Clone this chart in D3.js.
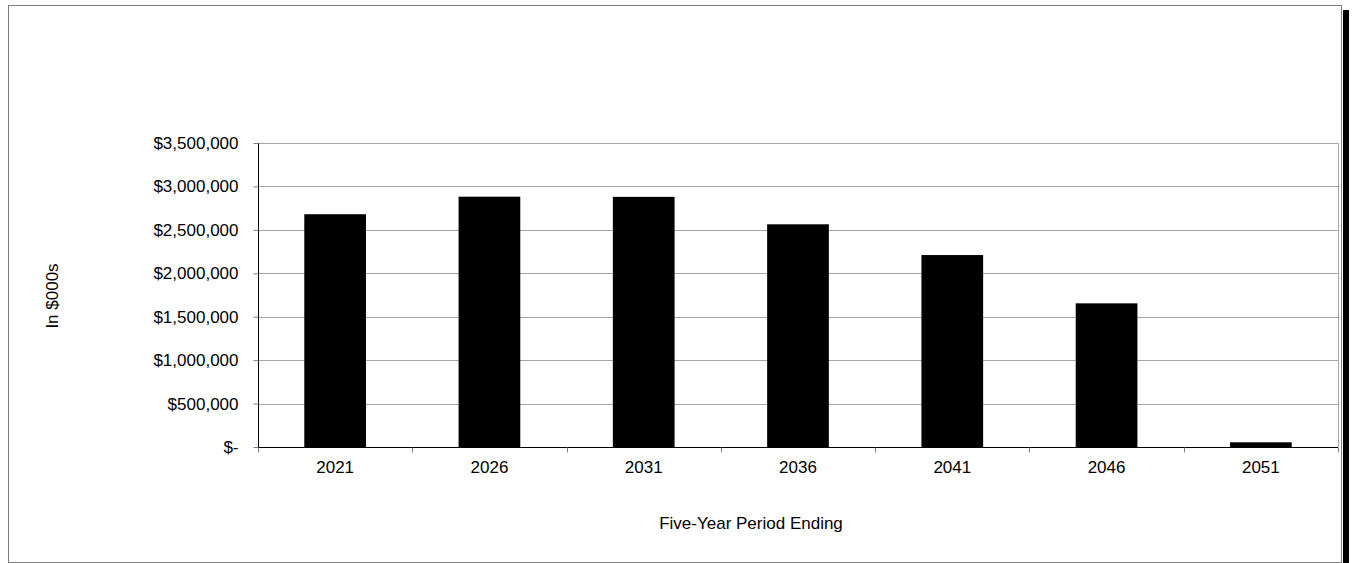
<!DOCTYPE html>
<html>
<head>
<meta charset="utf-8">
<script src="https://cdn.jsdelivr.net/npm/d3@7"></script>
<style>
  body { margin: 0; background: #fff; }
  text { font-family: "Liberation Sans", Arial, sans-serif; }
</style>
</head>
<body>
<svg width="1352" height="563"></svg>
<script>
var years = ["2021", "2026", "2031", "2036", "2041", "2046", "2051"];
var values = [2680000, 2882000, 2880000, 2564000, 2210000, 1654000, 54000];
var yTicks = [0, 500000, 1000000, 1500000, 2000000, 2500000, 3000000, 3500000];

var svg = d3.select("svg");
var margin = { left: 258, top: 143, right: 1338, bottom: 447 };

// outer frame + shadow
svg.append("rect")
   .attr("x", 1343).attr("y", 10).attr("width", 6).attr("height", 553)
   .style("fill", "black");
svg.append("rect")
   .attr("x", 8.5).attr("y", 5.5).attr("width", 1333).attr("height", 557)
   .style("fill", "white").style("stroke", "#7f7f7f").style("stroke-width", 1);

var x = d3.scaleBand().domain(years).range([margin.left, margin.right]).paddingInner(0.6).paddingOuter(0.3);
var band = d3.scaleBand().domain(years).range([margin.left, margin.right]);
var y = d3.scaleLinear().domain([0, 3500000]).range([margin.bottom, margin.top]);

var fmt = function(d) { return d === 0 ? "$-" : "$" + d3.format(",")(d); };

// gridlines
svg.append("g").selectAll("line").data(yTicks.slice(1)).enter().append("line")
   .attr("x1", margin.left).attr("x2", margin.right)
   .attr("y1", d => Math.round(y(d)) + 0.5).attr("y2", d => Math.round(y(d)) + 0.5)
   .style("stroke", "#a6a6a6").style("stroke-width", 1);
// plot border right
svg.append("line")
   .attr("x1", margin.right + 0.5).attr("x2", margin.right + 0.5)
   .attr("y1", margin.top).attr("y2", margin.bottom)
   .style("stroke", "#a6a6a6");

// bars
svg.append("g").selectAll("rect").data(values).enter().append("rect")
   .attr("x", (d, i) => x(years[i]))
   .attr("y", d => y(d))
   .attr("width", x.bandwidth())
   .attr("height", d => margin.bottom - y(d))
   .style("fill", "black");

// y axis
var yAxis = svg.append("g").attr("transform", "translate(" + (margin.left + 0.5) + ",0)")
   .call(d3.axisLeft(y).tickValues(yTicks).tickFormat(fmt).tickSize(5).tickPadding(15));
yAxis.select(".domain").attr("d", "M0," + margin.top + "V" + margin.bottom).style("stroke", "black");
yAxis.selectAll(".tick line").style("stroke", "#808080");
yAxis.selectAll("text").style("font-size", "17px").style("fill", "black");

// x axis
var xAxis = svg.append("g").attr("transform", "translate(0," + (margin.bottom + 0.5) + ")")
   .call(d3.axisBottom(band).tickSize(0).tickPadding(13));
xAxis.select(".domain").attr("d", "M" + margin.left + ",0H" + margin.right).style("stroke", "black");
xAxis.selectAll("text").style("font-size", "17px").style("fill", "black");
xAxis.selectAll(".sep").data(years.concat(["end"])).enter().append("line")
   .attr("class", "sep")
   .attr("x1", (d, i) => Math.round(margin.left + i * band.bandwidth()) + 0.5)
   .attr("x2", (d, i) => Math.round(margin.left + i * band.bandwidth()) + 0.5)
   .attr("y1", 0).attr("y2", 5)
   .style("stroke", "#808080");

// axis titles
svg.append("text")
   .attr("transform", "translate(58,296) rotate(-90)")
   .style("text-anchor", "middle").style("font-size", "17px")
   .text("In $000s");
svg.append("text")
   .attr("x", 751).attr("y", 529)
   .style("text-anchor", "middle").style("font-size", "17px")
   .text("Five-Year Period Ending");
</script>
</body>
</html>
